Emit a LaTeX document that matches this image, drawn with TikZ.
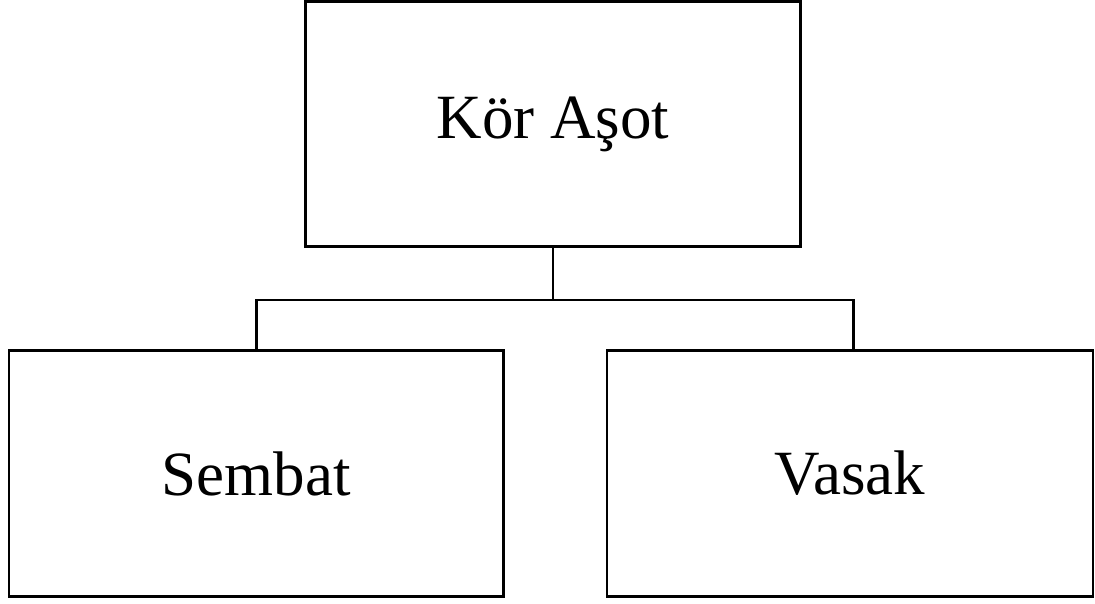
\documentclass[tikz,border=0pt]{standalone}
\usepackage{fontspec}
\setmainfont{Liberation Serif}
\begin{document}
\begin{tikzpicture}[x=1pt,y=1pt,
  box/.style={draw=black,line width=2.5pt,fill=white,inner sep=0pt,font=\fontsize{63}{70}\selectfont},
  conn/.style={draw=black,line width=2.5pt}]
\useasboundingbox (0,0) rectangle (1095,604);
\node[box,minimum width=495pt,minimum height=245pt] (top) at (553,480) {Kör Aşot};
\node[box,minimum width=494.5pt,minimum height=246pt] (left) at (256.25,130.5) {Sembat};
\node[box,minimum width=486pt,minimum height=246pt] (right) at (850,130.5) {Vasak};
\coordinate (mid) at (553,304);
\draw[conn] (top.south) -- (mid);
\draw[conn] (left.north) |- (mid) -| ([xshift=3.5pt]right.north);
\end{tikzpicture}
\end{document}
